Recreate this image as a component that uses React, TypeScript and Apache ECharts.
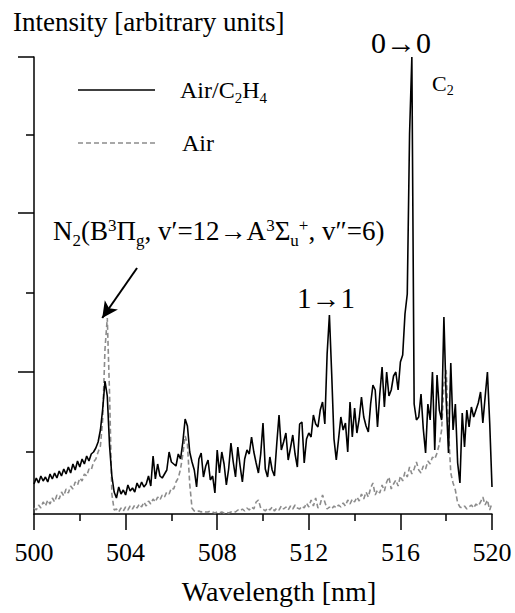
import React, { useEffect, useRef } from "react";
import * as echarts from "echarts";

// Spectrum sampled every 0.1 nm from 500.0 to 520.0 nm (arbitrary intensity units)
const wavelengthStart = 500;
const wavelengthStep = 0.1;

const airC2H4 = [
  30, 36, 31, 38, 33, 37, 32, 40, 35, 41,
  36, 43, 38, 45, 40, 47, 41, 50, 44, 53,
  47, 55, 50, 58, 53, 60, 62, 66, 72, 84,
  105, 133, 118, 68, 38, 22, 16, 27, 20, 24,
  19, 29, 23, 26, 22, 31, 26, 32, 27, 30,
  38, 28, 58, 35, 50, 38, 36, 40, 44, 62,
  52, 50, 48, 60, 55, 72, 95, 88, 62, 52,
  44, 27, 55, 61, 37, 48, 54, 34, 38, 21,
  64, 41, 62, 50, 29, 45, 71, 52, 37, 67,
  48, 32, 55, 64, 60, 77, 62, 51, 41, 60,
  91, 45, 37, 57, 44, 38, 70, 99, 64, 72,
  81, 54, 66, 79, 60, 47, 90, 92, 51, 75,
  81, 77, 99, 90, 87, 104, 112, 90, 160, 199,
  140, 75, 54, 75, 97, 84, 91, 62, 112, 77,
  106, 81, 95, 117, 97, 88, 82, 110, 129, 124,
  87, 120, 147, 107, 142, 118, 124, 138, 142, 124,
  152, 159, 200, 220, 380, 457, 110, 94, 97, 120,
  85, 61, 110, 94, 142, 64, 139, 104, 94, 197,
  114, 61, 151, 84, 110, 51, 31, 101, 67, 104,
  87, 107, 97, 104, 111, 122, 91, 117, 142, 91,
  27,
];

const air = [
  6, 4, 9, 6, 12, 8, 14, 10, 16, 12,
  19, 15, 22, 18, 25, 21, 28, 25, 32, 29,
  36, 33, 40, 38, 45, 44, 52, 55, 62, 68,
  95, 165, 196, 120, 20, 4, 5, 2, 6, 3,
  7, 4, 8, 5, 9, 6, 10, 7, 12, 8,
  13, 10, 15, 12, 17, 14, 19, 17, 22, 20,
  26, 25, 32, 36, 45, 60, 78, 70, 30, 6,
  3, 2, 3, 2, 3, 2, 2, 3, 2, 1,
  2, 1, 2, 1, 2, 1, 2, 3, 2, 4,
  3, 5, 3, 6, 4, 7, 5, 12, 14, 6,
  5, 3, 6, 4, 7, 3, 6, 4, 8, 5,
  7, 4, 8, 5, 9, 6, 5, 8, 6, 11,
  7, 14, 8, 16, 6, 10, 19, 12, 5, 7,
  5, 8, 6, 9, 7, 11, 8, 14, 10, 15,
  12, 17, 13, 20, 15, 22, 17, 26, 31, 19,
  24, 21, 29, 23, 32, 37, 25, 30, 34, 28,
  38, 33, 42, 37, 47, 40, 45, 52, 44, 41,
  48, 45, 53, 50, 57, 55, 61, 70, 84, 130,
  144, 84, 41, 31, 24, 11, 7, 6, 8, 5,
  7, 9, 6, 10, 8, 12, 17, 9, 14, 4,
  11,
];

const seriesNames = ["Air/C2H4", "Air"];
const xMin = 500;
const xMax = 520;
const xInterval = 4;
const yMin = 0;
const yMax = 457;
const yLongTicks = [142, 301, 457];
const yShortTicks = [62, 221, 379];
// Arrow pointing at the N2 band head: [wavelength, intensity]
const arrowStart = [504.5, 246];
const arrowEnd = [502.98, 196];

const FONT = "'Liberation Serif', 'Times New Roman', 'DejaVu Serif', serif";
const BLACK_COLOR = "#000";
const AIR_COLOR = "#8c8c8c";

function toPairs(values: number[]) {
  return values.map((v, i) => [
    Number((wavelengthStart + i * wavelengthStep).toFixed(1)),
    v,
  ]);
}

export default function App() {
  const ref = useRef<HTMLDivElement>(null);

  useEffect(() => {
    if (!ref.current) return;
    const chart = echarts.init(ref.current, null, { renderer: "svg" });

    const baseText = { fontFamily: FONT, color: "#000" };
    const subRich = {
      n: { fontFamily: FONT, fontSize: 24, lineHeight: 30, fill: "#000" },
      s: { fontFamily: FONT, fontSize: 15, lineHeight: 15, verticalAlign: "bottom", fill: "#000" },
    };

    const option: any = {
      animation: false,
      backgroundColor: "#fff",
      grid: {
        left: 34,
        right: 23,
        top: 57,
        bottom: 99,
        containLabel: false,
        outerBoundsMode: "none",
      },
      xAxis: {
        type: "value",
        min: xMin,
        max: xMax,
        interval: xInterval,
        name: "Wavelength [nm]",
        nameLocation: "middle",
        nameGap: 63,
        nameTextStyle: { ...baseText, fontSize: 28, padding: [0, 0, 0, 32] },
        axisLine: { show: true, onZero: false, lineStyle: { color: "#000", width: 1.5 } },
        axisTick: { show: true, inside: false, length: 16, lineStyle: { color: "#000", width: 1.5 } },
        minorTick: { show: true, splitNumber: 2, length: 7, lineStyle: { color: "#000", width: 1.5 } },
        axisLabel: { ...baseText, fontSize: 26, margin: 25 },
        splitLine: { show: false },
        minorSplitLine: { show: false },
      },
      yAxis: [
        {
          type: "value",
          position: "left",
          min: yMin,
          max: yMax,
          axisLine: { show: true, onZero: false, lineStyle: { color: "#000", width: 1.5 } },
          axisTick: {
            show: true,
            inside: false,
            length: 16,
            customValues: yLongTicks,
            lineStyle: { color: "#000", width: 1.5 },
          },
          axisLabel: { show: false },
          splitLine: { show: false },
        },
        {
          type: "value",
          position: "left",
          offset: 0,
          min: yMin,
          max: yMax,
          axisLine: { show: false },
          axisTick: {
            show: true,
            inside: false,
            length: 8,
            customValues: yShortTicks,
            lineStyle: { color: "#000", width: 1.5 },
          },
          axisLabel: { show: false },
          splitLine: { show: false },
        },
      ],
      series: [
        {
          name: seriesNames[1],
          type: "line",
          yAxisIndex: 0,
          data: toPairs(air),
          symbol: "none",
          showSymbol: false,
          lineStyle: { color: AIR_COLOR, width: 1.6, type: [5, 3] },
          itemStyle: { color: AIR_COLOR },
          z: 2,
        },
        {
          name: seriesNames[0],
          type: "line",
          yAxisIndex: 0,
          data: toPairs(airC2H4),
          symbol: "none",
          showSymbol: false,
          lineStyle: { color: BLACK_COLOR, width: 1.6, type: "solid" },
          itemStyle: { color: BLACK_COLOR },
          z: 3,
          markLine: {
            silent: true,
            animation: false,
            symbol: ["none", "arrow"],
            symbolSize: [12, 16],
            label: { show: false },
            lineStyle: { color: "#000", width: 2, type: "solid" },
            emphasis: { disabled: true },
            data: [[{ coord: arrowStart }, { coord: arrowEnd }]],
          },
        },
      ],
      graphic: [
        {
          type: "text",
          x: 13,
          y: 22,
          style: {
            text: "Intensity [arbitrary units]",
            fontFamily: FONT,
            fontSize: 27,
            fill: "#000",
            align: "left",
            verticalAlign: "middle",
          },
        },
        // legend
        {
          type: "line",
          shape: { x1: 78, y1: 90, x2: 155, y2: 90 },
          style: { stroke: BLACK_COLOR, lineWidth: 1.6 },
        },
        {
          type: "text",
          x: 180,
          y: 90,
          style: {
            text: "{n|Air/C}{s|2}{n|H}{s|4}",
            fill: "#000",
            align: "left",
            verticalAlign: "middle",
            rich: subRich,
          },
        },
        {
          type: "line",
          shape: { x1: 78, y1: 143, x2: 157, y2: 143 },
          style: { stroke: AIR_COLOR, lineWidth: 1.6, lineDash: [5, 3] },
        },
        {
          type: "text",
          x: 182,
          y: 143,
          style: {
            text: "Air",
            fontFamily: FONT,
            fontSize: 24,
            fill: "#000",
            align: "left",
            verticalAlign: "middle",
          },
        },
        // annotations
        {
          type: "text",
          x: 401,
          y: 42,
          style: {
            text: "0→0",
            fontFamily: FONT,
            fontSize: 30,
            fill: "#000",
            align: "center",
            verticalAlign: "middle",
          },
        },
        {
          type: "text",
          x: 432,
          y: 83,
          style: {
            text: "{n|C}{s|2}",
            fill: "#000",
            align: "left",
            verticalAlign: "middle",
            rich: {
              n: { fontFamily: FONT, fontSize: 22, lineHeight: 28, fill: "#000" },
              s: { fontFamily: FONT, fontSize: 14, lineHeight: 14, verticalAlign: "bottom", fill: "#000" },
            },
          },
        },
        {
          type: "text",
          x: 326,
          y: 298,
          style: {
            text: "1→1",
            fontFamily: FONT,
            fontSize: 29,
            fill: "#000",
            align: "center",
            verticalAlign: "middle",
          },
        },
        {
          type: "text",
          x: 53,
          y: 231,
          style: {
            text:
              "{n|N}{sb|2}{n|(B}{sp|3}{n|Π}{sb|g}{n|, v′=12→A}{sp|3}{n|Σ}{sb|u}{sp|+}{n|, v″=6)}",
            fill: "#000",
            align: "left",
            verticalAlign: "middle",
            rich: {
              n: { fontFamily: FONT, fontSize: 27, lineHeight: 35, fill: "#000" },
              sp: {
                fontFamily: FONT,
                fontSize: 17,
                lineHeight: 17,
                verticalAlign: "top",
                padding: [3, 0, 0, 0],
                fill: "#000",
              },
              sb: { fontFamily: FONT, fontSize: 17, lineHeight: 17, verticalAlign: "bottom", fill: "#000" },
            },
          },
        },
      ],
    };

    chart.setOption(option);
    return () => chart.dispose();
  }, []);

  return (
    <div
      ref={ref}
      style={{ position: "fixed", left: 0, top: 0, width: 515, height: 613, background: "#fff" }}
    />
  );
}
